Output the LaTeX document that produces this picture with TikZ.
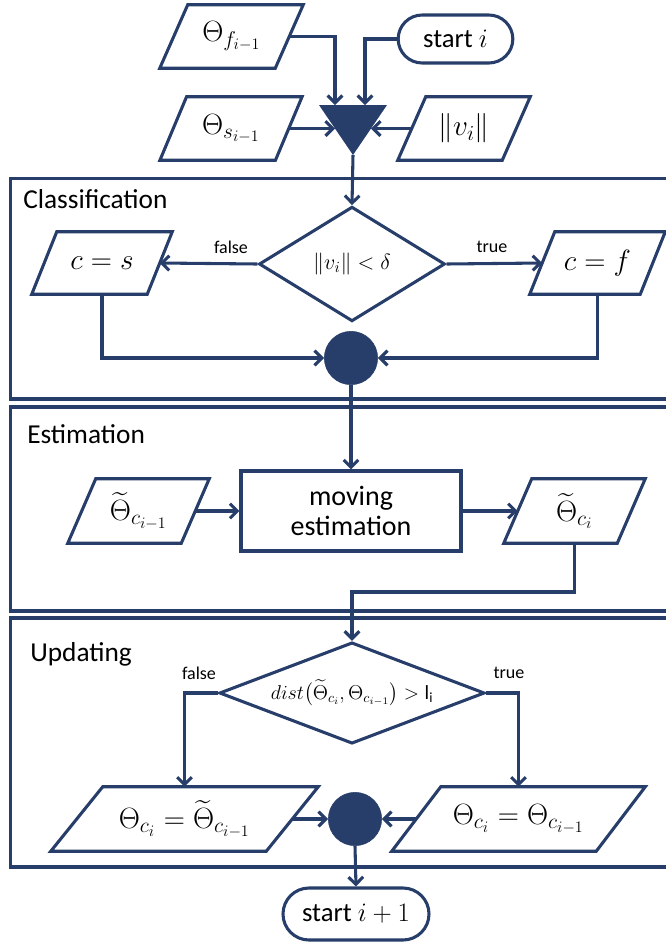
\RequirePackage{fix-cm}
\documentclass[tikz,border=0pt]{standalone}
\usepackage{amsmath}
\usepackage{fontspec}
\setmainfont{Carlito}
\usetikzlibrary{shapes.geometric,shapes.misc,arrows.meta}
\definecolor{navy}{RGB}{39,61,106}
\DeclareMathSizes{22}{22}{16}{12}

\tikzset{
  strokeln/.style={draw=navy, line width=2.3pt},
  arr/.style={strokeln, -{Straight Barb[length=5.5pt,width=11pt]}},
  stageframe/.style={strokeln},
  stagetitle/.style={anchor=base west, inner sep=0pt, font=\fontsize{20.5}{24}\selectfont},
  lbl/.style={inner sep=0pt, font=\fontsize{13.5}{16}\selectfont},
  io/.style={rectangle, inner sep=0pt, minimum height=47.25pt,
    font=\fontsize{22}{26}\selectfont},
  term/.style={rounded rectangle, strokeln, fill=white, inner sep=0pt,
    font=\fontsize{20}{24}\selectfont},
  proc/.style={rectangle, strokeln, fill=white, inner sep=0pt, align=center,
    font=\fontsize{21}{24}\selectfont},
  decide/.style={diamond, strokeln, fill=white, inner sep=0pt},
  mergedot/.style={circle, fill=navy, draw=navy, inner sep=0pt, minimum size=40pt},
}
% outline of a data node: its box is the parallelogram's mid-height width,
% the top edge is pushed right and the bottom edge left by #2
\newcommand\paraoutline[2]{%
  \draw[strokeln, line join=miter] ([xshift=-#2]#1.south west) -- ([xshift=#2]#1.north west)
    -- ([xshift=#2]#1.north east) -- ([xshift=-#2]#1.south east) -- cycle;}

\begin{document}
\begin{tikzpicture}[x=0.75pt,y=-0.75pt]
\useasboundingbox (0,0) rectangle (665,943);

% stage frames
\draw[stageframe] (10.5,178.5) rectangle (690,399);
\draw[stageframe] (10.5,407) rectangle (690,611);
\draw[stageframe] (10.5,618) rectangle (690,867);
\node[stagetitle] (tcls) at (23,208) {Classification};
\node[stagetitle] (test) at (27,443) {Estimation};
\node[stagetitle] (tupd) at (30,661) {Updating};

% inputs
\node[io, minimum width=86.25pt] (thf) at (231.5,36.5) {$\Theta_{f_{i-1}}$};
\paraoutline{thf}{10.5pt}
\node[io, minimum width=86.25pt] (ths) at (231,128.5) {$\Theta_{s_{i-1}}$};
\paraoutline{ths}{10pt}
\node[io, minimum width=78pt] (nv) at (464,128.5) {$\|v_i\|$};
\paraoutline{nv}{10.5pt}
\node[term, minimum width=86pt, minimum height=36pt] (st) at (455.5,39) {start $i$};

% merging triangle
\coordinate (tA) at (335,105);
\coordinate (tB) at (365,105);
\coordinate (tL) at (335,128.5);
\coordinate (tR) at (371,128.5);
\coordinate (tApex) at (353,155);
\fill[navy] (319,105) -- (387,105) -- (tApex) -- cycle;

\draw[arr] (thf.east) -| (tA);
\draw[arr] (st.west) -| (tB);
\draw[arr] (ths.east) -- (tL);
\draw[arr] (nv.west) -- (tR);

% classification
\node[decide, aspect=1.6, minimum width=139.5pt, minimum height=86pt,
  font=\fontsize{16.5}{19}\selectfont] (d1) at (352,264) {$\|v_i\| < \delta$};
\node[io, minimum width=86.25pt, minimum height=46.5pt] (cs) at (102,263) {$c = s$};
\paraoutline{cs}{9.4pt}
\node[io, minimum width=82.5pt, minimum height=46.5pt] (cf) at (597.5,263) {$c = f$};
\paraoutline{cf}{9.4pt}
\node[mergedot] (m1) at (351,358) {};
\draw[arr] (tApex) -- (d1.north);
\draw[arr] (d1.west) -- (cs.east);
\draw[arr] (d1.east) -- (cf.west);
\node[lbl] (lf1) at (231,247) {false};
\node[lbl] (lt1) at (492,247) {true};
\draw[arr] (cs.south) |- (m1.west);
\draw[arr] (cf.south) |- (m1.east);

% estimation
\node[proc, minimum width=165pt, minimum height=60pt] (me) at (351,511)
  {moving\\[-2pt]estimation};
\node[io, minimum width=84.75pt, minimum height=48pt] (te1) at (138.5,511)
  {$\widetilde{\Theta}_{c_{i-1}}$};
\paraoutline{te1}{10.5pt}
\node[io, minimum width=84.75pt, minimum height=48pt] (te2) at (574.5,511)
  {$\widetilde{\Theta}_{c_i}$};
\paraoutline{te2}{10.5pt}
\draw[arr] (m1.south) -- (me.north);
\draw[arr] (te1.east) -- (me.west);
\draw[arr] (me.east) -- (te2.west);

% updating
\node[decide, aspect=2.6, minimum width=199pt, minimum height=76pt,
  font=\fontsize{15}{18}\selectfont] (d2) at (352,693)
  {$dist\bigl(\widetilde{\Theta}_{c_i},\Theta_{c_{i-1}}\bigr) > \mathrm{l}_{\mathrm{i}}$};
\coordinate (j2) at (352,592);
\draw[arr] (te2.south) |- (j2) -- (d2.north);
\node[io, minimum width=161.25pt, minimum height=48pt] (ul) at (184.5,819)
  {$\Theta_{c_i} = \widetilde{\Theta}_{c_{i-1}}$};
\paraoutline{ul}{19.5pt}
\node[io, minimum width=153pt, minimum height=48pt] (ur) at (518.5,819)
  {$\Theta_{c_i} = \Theta_{c_{i-1}}$};
\paraoutline{ur}{18.4pt}
\node[mergedot] (m2) at (355,819) {};
\node[lbl] (lf2) at (199,673) {false};
\node[lbl] (lt2) at (509,673) {true};
\draw[arr] (d2.west) -| (ul.north);
\draw[arr] (d2.east) -| (ur.north);
\draw[arr] (ul.east) -- (m2.west);
\draw[arr] (ur.west) -- (m2.east);

% next iteration
\node[term, minimum width=109.5pt, minimum height=39pt] (nx) at (356,914) {start $i+1$};
\draw[arr] (m2.south) -- (nx.north);
\end{tikzpicture}
\end{document}
